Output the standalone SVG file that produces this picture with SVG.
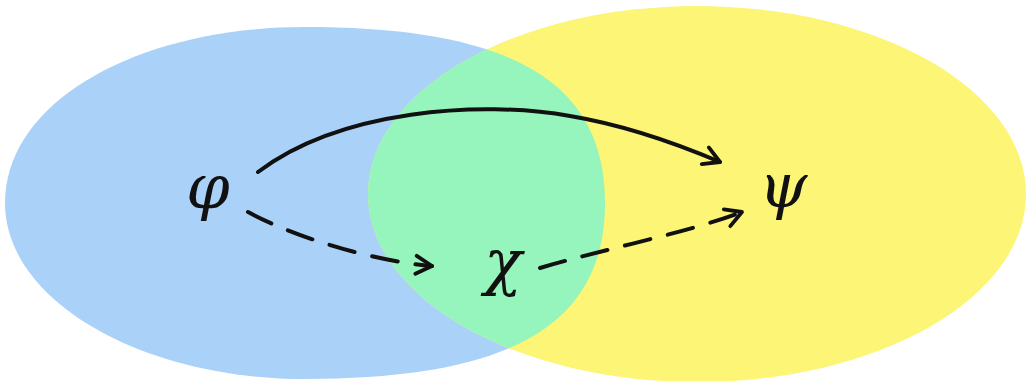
<svg xmlns="http://www.w3.org/2000/svg" width="1027" height="381" viewBox="0 0 1027 381">
<style>
.lbl{font-family:"DejaVu Serif","Liberation Serif",serif;font-style:italic;font-size:62px;fill:#111;text-anchor:middle}
.edge{fill:none;stroke:#111;stroke-width:4;stroke-linecap:round;stroke-linejoin:round}
.dash{stroke-dasharray:26 18}
</style>
<defs>
<marker id="ah" viewBox="0 0 24 24" refX="19" refY="12" markerWidth="24" markerHeight="24" markerUnits="userSpaceOnUse" orient="auto">
<path d="M3,3 L19,12 L3,21" fill="none" stroke="#111" stroke-width="3.8" stroke-linecap="round" stroke-linejoin="round"/>
</marker>
<clipPath id="yclip"><ellipse cx="697" cy="194" rx="329" ry="188"/></clipPath>
</defs>
<rect width="1027" height="381" fill="#fff"/>
<g id="sets">
<path id="setA" d="M605,203 C605,324 512,379 305,379 C140,379 5,300 5,203 C5,100 140,27 305,27 C512,27 605,82 605,203 Z" fill="#aad1f8"/>
<ellipse id="setB" cx="697" cy="194" rx="329" ry="188" fill="#fcf576"/>
<path id="overlap" d="M605,203 C605,324 512,379 305,379 C140,379 5,300 5,203 C5,100 140,27 305,27 C512,27 605,82 605,203 Z" fill="#96f5bc" clip-path="url(#yclip)"/>
</g>
<g id="connectors">
<path class="edge" d="M258,172 C340,110 480,100 570,116 C630,126 680,145 720,162" marker-end="url(#ah)"/>
<path class="edge dash" d="M248,212 C300,240 380,262 432,266" marker-end="url(#ah)"/>
<path class="edge dash" d="M540,268 C600,250 690,232 742,212" marker-end="url(#ah)"/>
</g>
<g id="phi"><text class="lbl" x="208" y="208">φ</text></g>
<g id="chi"><text class="lbl" x="503" y="283">χ</text></g>
<g id="psi"><text class="lbl" x="783" y="207">ψ</text></g>
</svg>
